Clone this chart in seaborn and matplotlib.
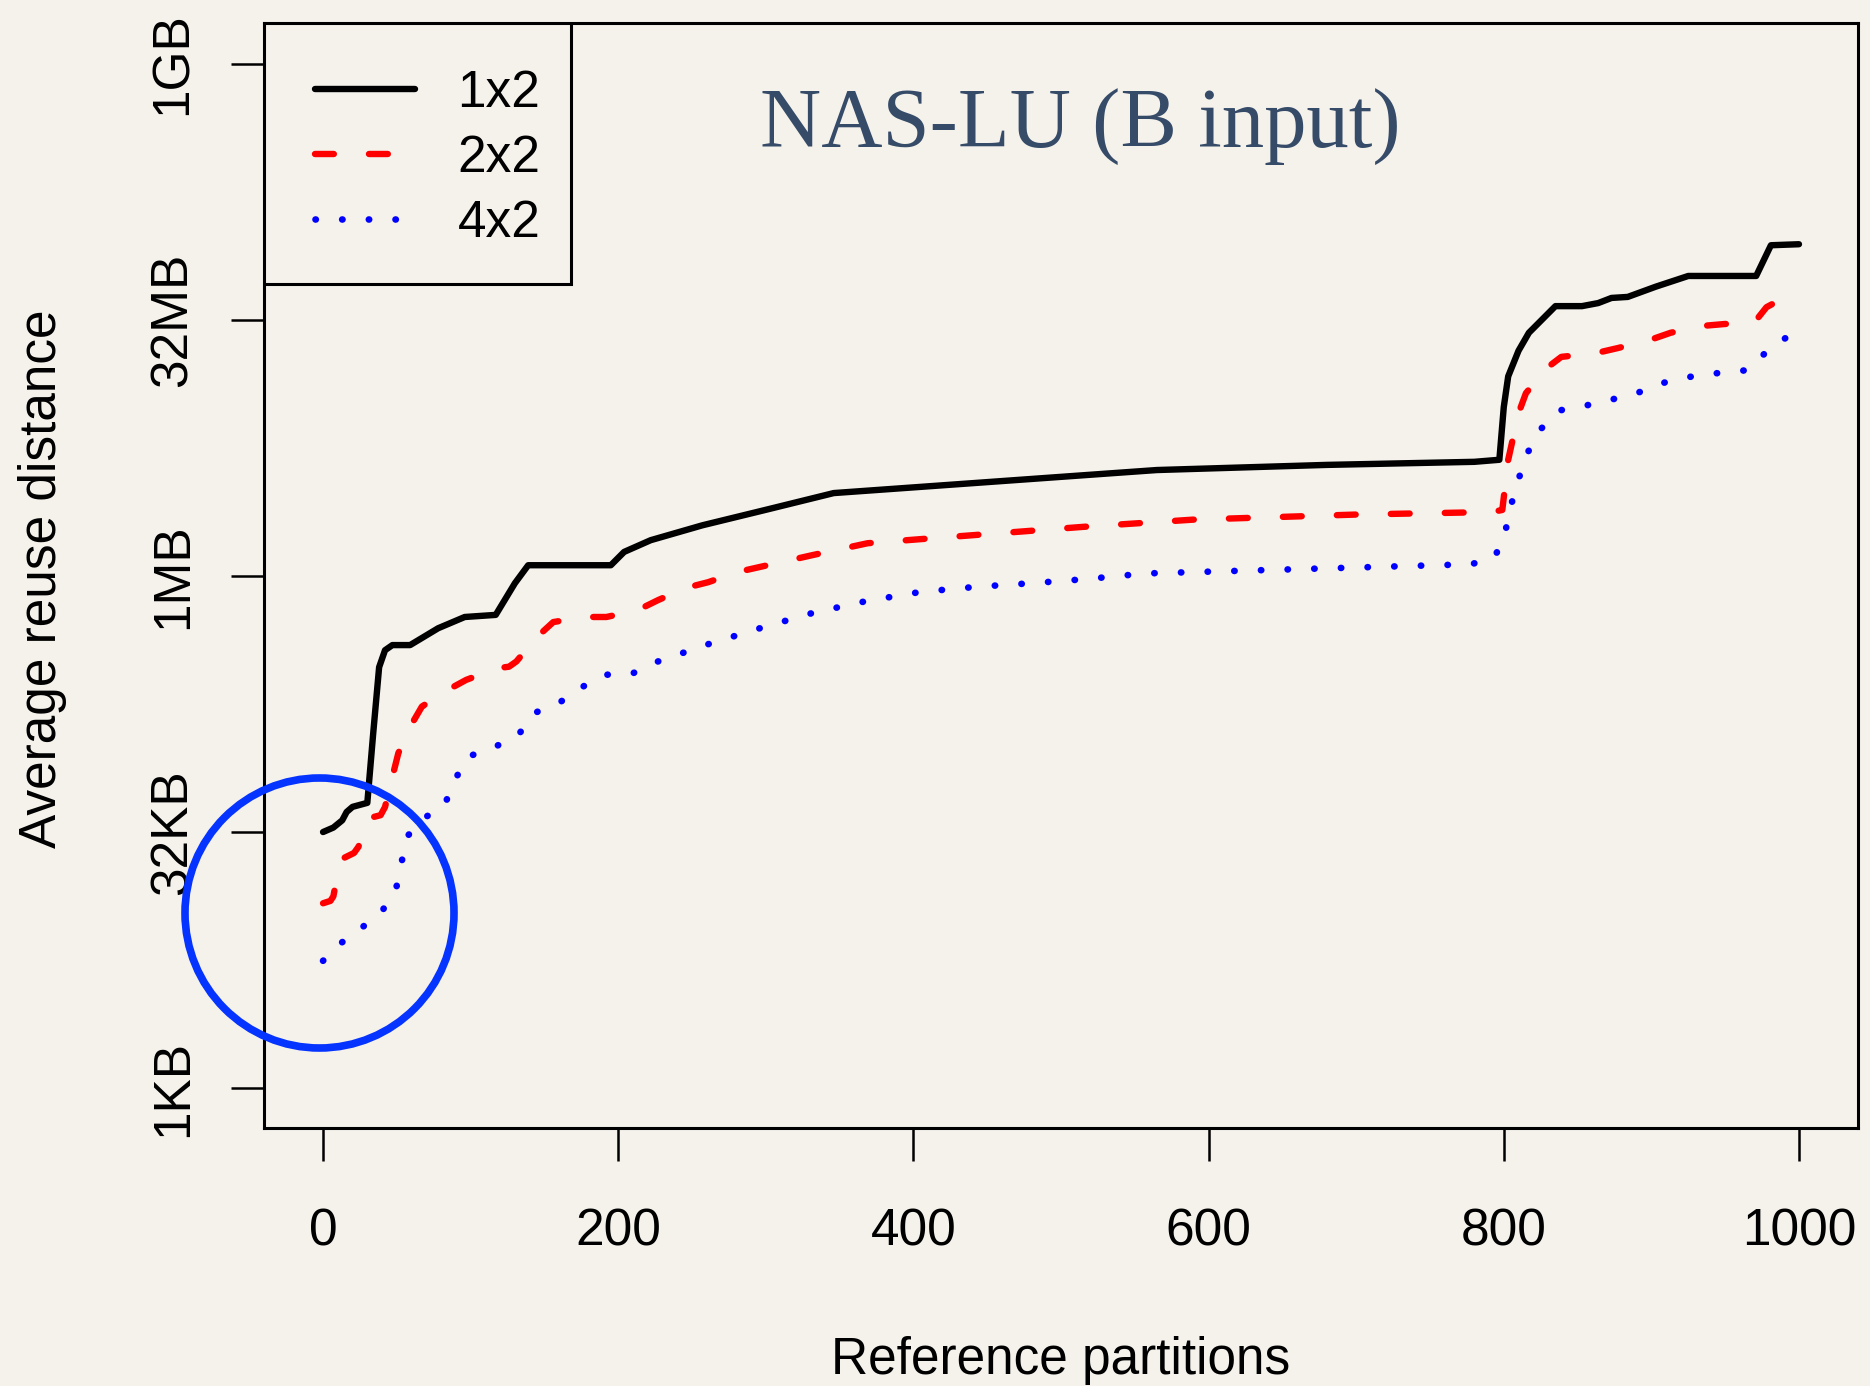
import numpy as np
import pandas as pd
import matplotlib
matplotlib.use("Agg")
import matplotlib.pyplot as plt
from matplotlib.patches import Ellipse, Rectangle
from matplotlib.ticker import FixedLocator, NullLocator
import seaborn as sns

# average reuse distance (KB) per reference partition
black_x = [0, 7, 13, 16, 20, 30, 34, 38, 42, 47, 59, 78, 96, 117, 130, 139, 195, 204, 222, 257, 301,
           346, 526, 565, 680, 780, 797, 800, 803, 810, 817, 835, 853, 864, 873, 884, 903, 925, 971, 981, 1000]
black_kb = [32, 34, 37.5, 42, 45, 47.5, 122, 298, 375, 402, 402, 505, 588, 605, 929, 1185, 1185, 1419, 1663,
            2034, 2521, 3147, 4068, 4299, 4608, 4804, 4939, 10085, 15287, 21619, 27554, 39528, 39528, 41207,
            44165, 44782, 51443, 59466, 59466, 90126, 91380]

red_x = [0, 5, 7, 8, 14, 21, 24, 31, 39, 42, 47, 51, 59, 67, 84, 97, 118, 126, 131, 145, 156, 177, 192, 213,
         227, 246, 261, 281, 332, 369, 405, 515, 589, 700, 792, 799, 803, 810, 815, 829, 839, 862, 877, 898,
         913, 933, 949, 970, 978, 996, 1000]
red_kb = [12.2, 12.6, 13.4, 14.9, 22.5, 24.1, 26.2, 38.6, 40.2, 44.9, 67.6, 93, 133, 175, 218, 251, 294, 300,
          322, 449, 549, 588, 588, 644, 739, 873, 942, 1082, 1361, 1596, 1687, 1992, 2195, 2353, 2435, 2504,
          4939, 9280, 12162, 17079, 19892, 20882, 22381, 24834, 27554, 30153, 30995, 31867, 38968, 47322, 47322]

blue_x = [0, 12, 25, 39, 49, 53, 56, 67, 82, 89, 98, 116, 132, 143, 160, 174, 191, 209, 226, 261, 296, 332,
          368, 405, 443, 480, 517, 557, 680, 778, 794, 801, 805, 810, 816, 825, 839, 856, 875, 893, 910, 928,
          947, 965, 978, 991, 1000]
blue_kb = [5.6, 7.1, 8.6, 10.7, 14.2, 20.5, 29.4, 38.1, 45.3, 64, 88.6, 101, 118, 160, 184, 224, 269, 272,
           320, 407, 505, 622, 729, 826, 885, 929, 982, 1060, 1136, 1201, 1323, 1859, 2684, 3795, 5405, 7486,
           9675, 10309, 11268, 12417, 14164, 15287, 16046, 16612, 21317, 25702, 26980]

labels = ["1x2", "2x2", "4x2"]
ytick_kb = [1, 32, 1024, 32768, 1048576]
ytick_labels = ["1KB", "32KB", "1MB", "32MB", "1GB"]
xticks = [0, 200, 400, 600, 800, 1000]

bg = "#f5f2ec"
sns.set_style("ticks")
plt.rcParams["font.family"] = ["Liberation Sans", "DejaVu Sans"]
plt.rcParams["text.color"] = "black"
plt.rcParams["axes.labelcolor"] = "black"

df = pd.concat([
    pd.DataFrame({"part": black_x, "kb": black_kb, "cfg": labels[0]}),
    pd.DataFrame({"part": red_x, "kb": red_kb, "cfg": labels[1]}),
    pd.DataFrame({"part": blue_x, "kb": blue_kb, "cfg": labels[2]}),
])

fig = plt.figure(figsize=(18.7, 13.86), dpi=100, facecolor=bg)
ax = fig.add_axes([264 / 1870, 1 - 1128 / 1386, (1858 - 264) / 1870, (1128 - 23) / 1386])
ax.set_facecolor(bg)

styles = {
    "1x2": dict(color="black", lw=4.6, linestyle="-", solid_capstyle="round", solid_joinstyle="round"),
    "2x2": dict(color="#ff0000", lw=4.6, linestyle=(0, (2.95, 5.5)), dash_capstyle="round", dash_joinstyle="round"),
    "4x2": dict(color="#0000ff", lw=4.8, linestyle=(0, (0.05, 3.95)), dash_capstyle="round"),
}
for cfg in labels:
    sub = df[df["cfg"] == cfg]
    sns.lineplot(data=sub, x="part", y="kb", ax=ax, estimator=None, sort=False,
                 label=cfg, **styles[cfg])

ax.set_yscale("log", base=2)
ax.set_xlim(-40, 1040)
ax.set_ylim(2 ** -0.78, 2 ** 20.8)
ax.xaxis.set_major_locator(FixedLocator(xticks))
ax.set_xticklabels([str(t) for t in xticks])
ax.yaxis.set_major_locator(FixedLocator(ytick_kb))
ax.yaxis.set_minor_locator(NullLocator())
ax.set_yticklabels(ytick_labels)

for s in ax.spines.values():
    s.set_linewidth(2.2)
    s.set_color("black")
    s.set_visible(True)

ax.tick_params(axis="both", direction="out", length=23.5, width=1.8, color="black",
               labelsize=37, labelcolor="black")
ax.tick_params(axis="x", pad=34)
ax.tick_params(axis="y", pad=24)
for t in ax.get_yticklabels():
    t.set_rotation(90)
    t.set_va("center")
    t.set_ha("right")

ax.set_xlabel("Reference partitions", fontsize=37, va="center")
ax.xaxis.set_label_coords(0.5, -0.21)
ax.set_ylabel("Average reuse distance", fontsize=37, va="center", ha="center")
ax.yaxis.set_label_coords(-0.139, 0.497)

ax.text(0.512, 0.906, "NAS-LU (B input)", transform=ax.transAxes, ha="center", va="center",
        fontsize=61, color="#354b68", family=["Liberation Serif", "DejaVu Serif"])

# legend box drawn R-style, tighter on the right than matplotlib's padding
ax.add_patch(Rectangle((0, 0.7638), 0.1926, 0.2362, transform=ax.transAxes, facecolor=bg,
                       edgecolor="black", lw=2.2, zorder=4.5))
leg = ax.legend(loc="upper left", bbox_to_anchor=(0.003, 1), borderaxespad=0, fontsize=37,
                frameon=False, handlelength=1.96, handletextpad=0.82, labelspacing=0.31, borderpad=0.89)

# highlight circle around the small-partition region
circle = Ellipse((319.5 / 1870, 1 - 913 / 1386), 269 / 1870, 270 / 1386, transform=fig.transFigure,
                 fill=False, edgecolor="#0533ff", lw=5.5, clip_on=False, zorder=10)
fig.patches.append(circle)

fig.savefig("out.png", dpi=100, facecolor=bg)
